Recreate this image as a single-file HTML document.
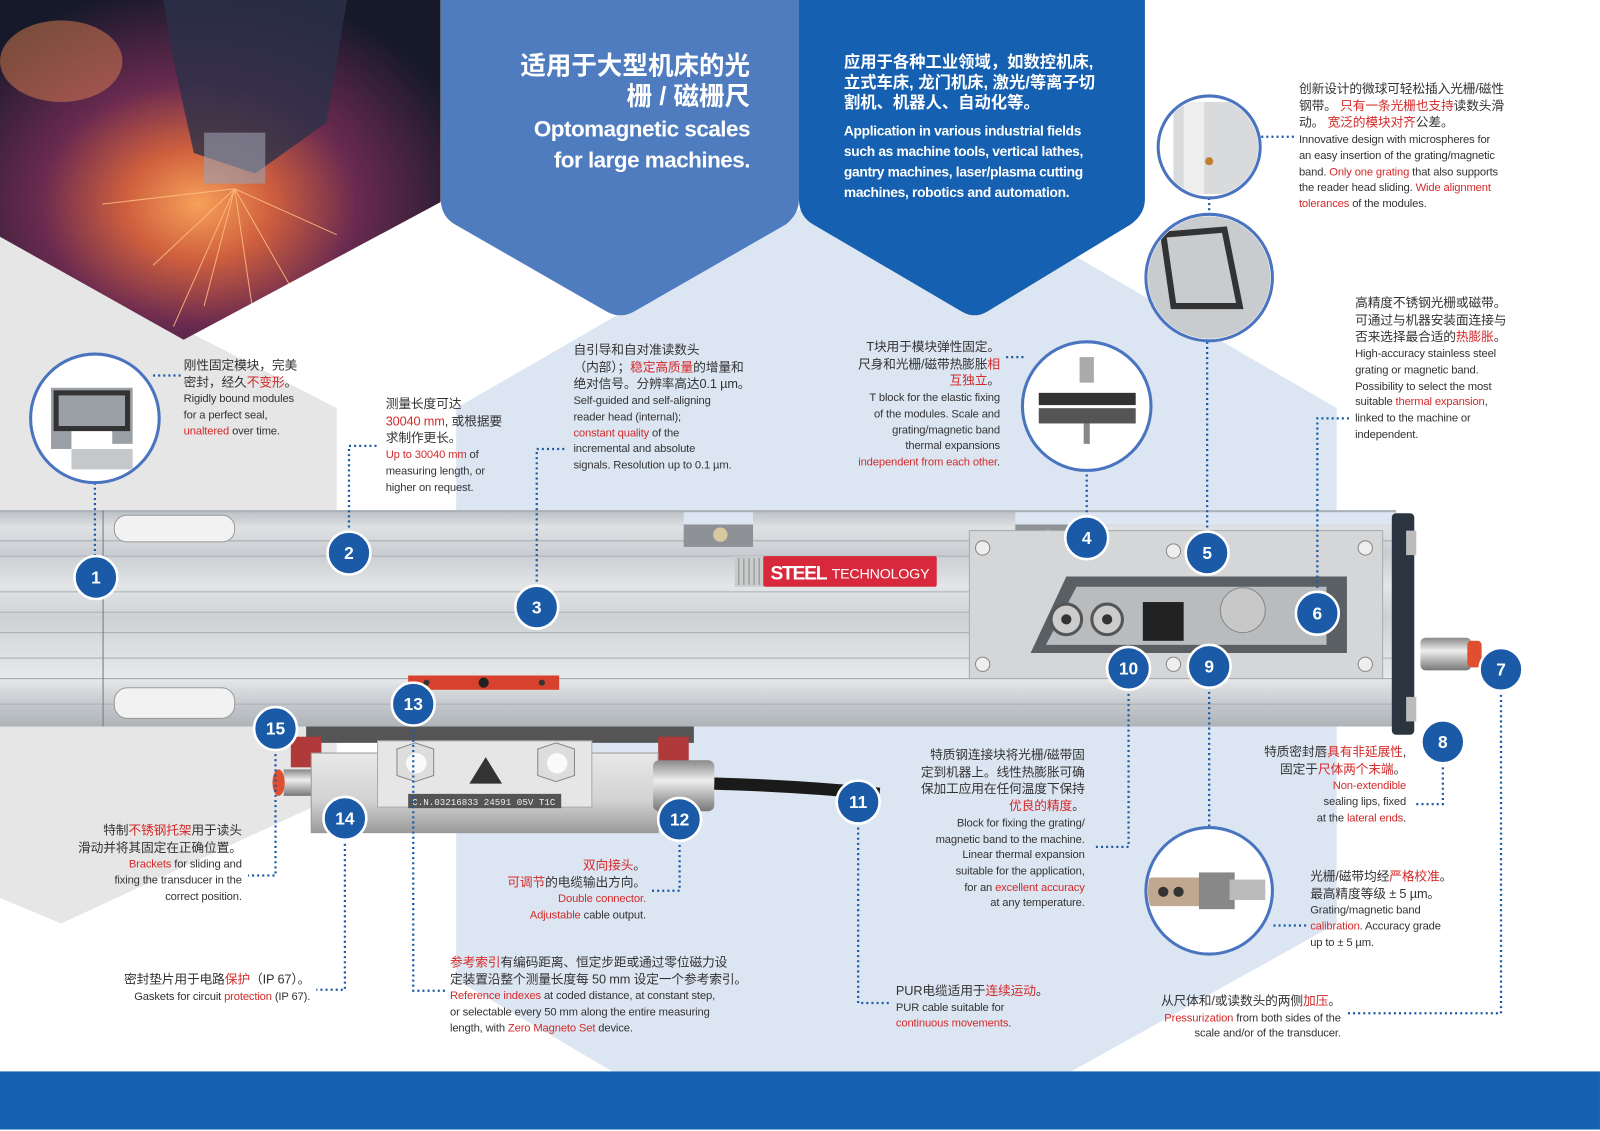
<!DOCTYPE html>
<html><head><meta charset="utf-8">
<style>
html,body{margin:0;padding:0;background:#fff;}
body{width:1600px;height:1131px;overflow:hidden;position:relative;}
#w{position:absolute;left:0;top:0;width:1568px;height:1107px;transform:scale(1.0204);transform-origin:0 0;}
svg{position:absolute;left:0;top:0;}
.t{position:absolute;font-family:"Liberation Sans","Noto Sans CJK SC",sans-serif;font-size:11px;line-height:15.7px;color:#333;white-space:nowrap;letter-spacing:-0.15px;}
.t .c{font-size:12.5px;}
.r{color:#d42a2a;}
.ra{text-align:right;}
.h{position:absolute;font-family:"Liberation Sans","Noto Sans CJK SC",sans-serif;color:#fff;white-space:nowrap;}
</style></head><body><div id="w">
<svg width="1568" height="1107" viewBox="0 0 1568 1107">
<defs>
<radialGradient id="fire" cx="0.45" cy="0.6" r="0.65">
<stop offset="0" stop-color="#f7a15a"/><stop offset="0.25" stop-color="#d0603e"/><stop offset="0.55" stop-color="#6a2a50"/><stop offset="1" stop-color="#15192a"/></radialGradient>
<linearGradient id="alu" x1="0" y1="0" x2="0" y2="1">
<stop offset="0" stop-color="#b9bec3"/><stop offset="0.08" stop-color="#dfe2e5"/><stop offset="0.2" stop-color="#c9cdd1"/><stop offset="0.35" stop-color="#e3e5e7"/><stop offset="0.5" stop-color="#cdd1d4"/><stop offset="0.62" stop-color="#dadde0"/><stop offset="0.78" stop-color="#e6e8ea"/><stop offset="0.9" stop-color="#c4c8cc"/><stop offset="1" stop-color="#aeb3b8"/></linearGradient>
<linearGradient id="head" x1="0" y1="0" x2="0" y2="1">
<stop offset="0" stop-color="#e8e8e8"/><stop offset="0.6" stop-color="#d2d2d2"/><stop offset="1" stop-color="#9a9a9a"/></linearGradient>
<linearGradient id="cyl" x1="0" y1="0" x2="0" y2="1">
<stop offset="0" stop-color="#888"/><stop offset="0.4" stop-color="#eee"/><stop offset="1" stop-color="#777"/></linearGradient>
<clipPath id="cA"><circle cx="93" cy="410" r="61"/></clipPath>
<clipPath id="cB"><circle cx="1065" cy="398" r="61"/></clipPath>
<clipPath id="cC"><circle cx="1185" cy="144" r="48"/></clipPath>
<clipPath id="cD"><circle cx="1185" cy="272" r="60"/></clipPath>
<clipPath id="cE"><circle cx="1185" cy="873" r="60"/></clipPath>
<clipPath id="ph"><polygon points="0,0 432,0 432,198 180,333 0,232"/></clipPath>
</defs>
<polygon points="0,230 330,400 330,780 60,905 0,880" fill="#e6e6e6"/>
<polygon points="880,150 1310,400 1310,905 1050,1050 600,1050 447,960 447,400" fill="#dce6f3"/>
<g clip-path="url(#ph)">
<rect x="0" y="0" width="432" height="333" fill="url(#fire)"/>
<polygon points="160,0 340,0 320,120 250,170 190,150 170,60" fill="#2a3148" opacity="0.8"/>
<rect x="200" y="130" width="60" height="50" fill="#9aa0b0" opacity="0.6"/>
<ellipse cx="60" cy="60" rx="60" ry="40" fill="#e08050" opacity="0.5"/>
<g stroke="#ffc080" stroke-width="1" opacity="0.85">
<line x1="230" y1="185" x2="150" y2="260"/><line x1="230" y1="185" x2="290" y2="290"/><line x1="230" y1="185" x2="100" y2="200"/><line x1="230" y1="185" x2="200" y2="300"/><line x1="230" y1="185" x2="330" y2="230"/><line x1="230" y1="185" x2="250" y2="320"/><line x1="230" y1="185" x2="170" y2="320"/></g>
</g>
<path d="M432,0 L783,0 L783,195 Q783,210 770,220 L622,305 Q608,313 594,305 L446,220 Q432,212 432,195 Z" fill="#4f7bbf"/>
<path d="M783,0 L1122,0 L1122,195 Q1122,210 1108,220 L968,305 Q955,313 942,305 L797,220 Q783,212 783,195 Z" fill="#1560b0"/>
<rect x="0" y="1050" width="1568" height="57" fill="#1560b0"/>
<rect x="0" y="500" width="1368" height="212" fill="url(#alu)"/>
<rect x="670" y="500" width="68" height="14" fill="#dce6f3"/>
<rect x="995" y="500" width="373" height="14" fill="#dce6f3"/>
<rect x="0" y="500" width="1368" height="2" fill="#aab0b5"/>
<g stroke="#a9aeb3" stroke-width="1">
<line x1="0" y1="530" x2="1368" y2="530"/><line x1="0" y1="545" x2="950" y2="545"/><line x1="0" y1="580" x2="950" y2="580"/><line x1="0" y1="600" x2="950" y2="600"/><line x1="0" y1="620" x2="950" y2="620"/><line x1="0" y1="645" x2="1368" y2="645"/><line x1="0" y1="665" x2="1368" y2="665"/><line x1="0" y1="690" x2="1368" y2="690"/>
<line x1="101" y1="500" x2="101" y2="712" stroke="#777"/></g>
<rect x="112" y="505" width="118" height="26" rx="12" fill="#f2f2f2" stroke="#999"/>
<rect x="112" y="674" width="118" height="30" rx="13" fill="#f2f2f2" stroke="#999"/>
<rect x="670" y="514" width="68" height="22" fill="#8e9296"/><circle cx="706" cy="524" r="7" fill="#d8c8a0"/>
<rect x="995" y="514" width="55" height="22" fill="#8e9296"/><circle cx="1027" cy="526" r="7" fill="#d8c8a0"/>
<rect x="720" y="545" width="28" height="30" fill="#c9cbcd"/>
<g stroke="#888"><line x1="724" y1="547" x2="724" y2="573"/><line x1="729" y1="547" x2="729" y2="573"/><line x1="734" y1="547" x2="734" y2="573"/><line x1="739" y1="547" x2="739" y2="573"/><line x1="744" y1="547" x2="744" y2="573"/></g>
<rect x="748" y="545" width="170" height="30" rx="2" fill="#d8283c"/>
<text x="755" y="568" font-family="Liberation Sans,sans-serif" font-weight="bold" font-size="19" fill="#fff" textLength="56">STEEL</text>
<text x="815" y="567" font-family="Liberation Sans,sans-serif" font-size="14" fill="#fff" textLength="96">TECHNOLOGY</text>
<rect x="950" y="520" width="405" height="145" fill="#d4d6d8" stroke="#aaa"/>
<polygon points="1045,565 1320,565 1320,640 1010,640" fill="#5a5f64"/>
<polygon points="1055,575 1300,575 1300,632 1025,632" fill="#b8bcbf"/>
<circle cx="1045" cy="607" r="15" fill="#ccc" stroke="#555" stroke-width="3"/><circle cx="1045" cy="607" r="5" fill="#333"/>
<circle cx="1085" cy="607" r="15" fill="#ccc" stroke="#555" stroke-width="3"/><circle cx="1085" cy="607" r="5" fill="#333"/>
<rect x="1120" y="590" width="40" height="38" fill="#222"/>
<circle cx="1218" cy="598" r="22" fill="#c8c8c8" stroke="#888"/>
<g fill="#eee" stroke="#888"><circle cx="963" cy="537" r="7"/><circle cx="1150" cy="540" r="7"/><circle cx="1338" cy="537" r="7"/><circle cx="963" cy="651" r="7"/><circle cx="1150" cy="651" r="7"/><circle cx="1338" cy="651" r="7"/></g>
<rect x="1364" y="503" width="22" height="217" rx="4" fill="#2a3540"/>
<rect x="1378" y="520" width="10" height="24" fill="#bbb"/><rect x="1378" y="683" width="10" height="24" fill="#bbb"/>
<rect x="1392" y="625" width="50" height="32" rx="5" fill="url(#cyl)"/>
<rect x="1438" y="628" width="14" height="26" rx="4" fill="#e05030"/>
<rect x="400" y="662" width="148" height="14" fill="#d8412e"/>
<circle cx="418" cy="669" r="3" fill="#333"/><circle cx="474" cy="669" r="5" fill="#222"/><circle cx="531" cy="669" r="3" fill="#333"/>
<rect x="300" y="712" width="380" height="16" fill="#555"/>
<rect x="285" y="722" width="30" height="30" fill="#b03a3a"/><rect x="645" y="722" width="30" height="30" fill="#b03a3a"/>
<rect x="278" y="754" width="30" height="26" fill="url(#cyl)"/>
<ellipse cx="273" cy="767" rx="6" ry="13" fill="#e05030"/>
<rect x="305" y="738" width="340" height="78" fill="url(#head)" stroke="#999"/>
<rect x="370" y="726" width="210" height="65" fill="#e6e6e6" stroke="#aaa"/>
<polygon points="407,728 425,734 425,760 407,766 389,760 389,734" fill="#ddd" stroke="#888"/><circle cx="408" cy="748" r="10" fill="#fafafa"/>
<polygon points="545,728 563,734 563,760 545,766 527,760 527,734" fill="#ddd" stroke="#888"/><circle cx="546" cy="748" r="10" fill="#fafafa"/>
<polygon points="476,742 492,768 460,768" fill="#333"/>
<rect x="400" y="778" width="150" height="14" fill="#555"/>
<text x="404" y="789" font-family="Liberation Mono,monospace" font-size="9" fill="#eee">C.N.03216833 24591 05V T1C</text>
<rect x="640" y="745" width="60" height="50" rx="6" fill="url(#cyl)"/>
<path d="M700,768 Q780,770 862,778" stroke="#1a1a1a" stroke-width="12" fill="none"/>
<g stroke="#1a5aa6" stroke-width="2.2" stroke-dasharray="2 3" fill="none">
<path d="M93,473 V546"/><path d="M150,368 H178"/>
<path d="M342,522 V437 H372"/><path d="M526,575 V440 H556"/>
<path d="M1065,507 V461"/><path d="M1003,350 H985"/>
<path d="M1183,522 V334"/><path d="M1185,194 V210"/><path d="M1236,134 H1268"/>
<path d="M1291,581 V410 H1322"/>
<path d="M1471,676 V993 H1320"/><path d="M1414,747 V788 H1385"/>
<path d="M1185,673 V811"/><path d="M1248,907 H1280"/>
<path d="M1106,675 V830 H1073"/><path d="M841,806 V983 H872"/>
<path d="M666,823 V873 H637"/><path d="M405,710 V971 H437"/>
<path d="M338,822 V970 H310"/><path d="M270,734 V858 H243"/>
</g>
<g stroke="#4a74c0" stroke-width="3" fill="#fff">
<circle cx="93" cy="410" r="63"/><circle cx="1065" cy="398" r="63"/><circle cx="1185" cy="144" r="50"/><circle cx="1185" cy="272" r="62"/><circle cx="1185" cy="873" r="62"/></g>
<g clip-path="url(#cA)"><path d="M50,380 h80 v55 h-20 v-15 h-40 v20 h-20 z" fill="#9aa0a5"/><rect x="55" y="385" width="70" height="35" fill="none" stroke="#333" stroke-width="5"/><rect x="70" y="440" width="60" height="20" fill="#c5c8cb"/></g>
<g clip-path="url(#cB)"><rect x="1058" y="350" width="14" height="25" fill="#aaa"/><rect x="1018" y="385" width="95" height="12" fill="#333"/><rect x="1018" y="400" width="95" height="15" fill="#555"/><rect x="1062" y="415" width="6" height="20" fill="#888"/></g>
<g clip-path="url(#cC)"><rect x="1150" y="100" width="90" height="90" fill="#d8dadc"/><rect x="1160" y="100" width="20" height="90" fill="#eee"/><circle cx="1185" cy="158" r="4" fill="#c08030"/></g>
<g clip-path="url(#cD)"><rect x="1125" y="210" width="120" height="124" fill="#c9ccce"/><path d="M1140,230 L1200,225 L1215,300 L1150,300 Z" fill="none" stroke="#333" stroke-width="6"/></g>
<g clip-path="url(#cE)"><rect x="1125" y="860" width="55" height="28" rx="4" fill="#c0a890"/><rect x="1175" y="855" width="35" height="36" fill="#888"/><rect x="1205" y="862" width="35" height="20" fill="#bbb"/><circle cx="1140" cy="874" r="5" fill="#333"/><circle cx="1155" cy="874" r="5" fill="#333"/></g>
<g font-family="Liberation Sans,sans-serif" font-weight="bold" font-size="17" fill="#fff" text-anchor="middle">
<g stroke="#fff" stroke-width="2.5" fill="#1a5aa6">
<circle cx="94" cy="566" r="21"/><circle cx="342" cy="542" r="21"/><circle cx="526" cy="595" r="21"/><circle cx="1065" cy="527" r="21"/><circle cx="1183" cy="542" r="21"/><circle cx="1291" cy="601" r="21"/><circle cx="1471" cy="656" r="21"/><circle cx="1414" cy="727" r="21"/><circle cx="1185" cy="653" r="21"/><circle cx="1106" cy="655" r="21"/><circle cx="841" cy="786" r="21"/><circle cx="666" cy="803" r="21"/><circle cx="405" cy="690" r="21"/><circle cx="338" cy="802" r="21"/><circle cx="270" cy="714" r="21"/></g>
<text x="94" y="572">1</text><text x="342" y="548">2</text><text x="526" y="601">3</text><text x="1065" y="533">4</text><text x="1183" y="548">5</text><text x="1291" y="607">6</text><text x="1471" y="662">7</text><text x="1414" y="733">8</text><text x="1185" y="659">9</text><text x="1106" y="661">10</text><text x="841" y="792">11</text><text x="666" y="809">12</text><text x="405" y="696">13</text><text x="338" y="808">14</text><text x="270" y="720">15</text>
</g>
</svg>

<div class="h" style="right:833px;top:50px;text-align:right;font-size:25px;font-weight:bold;line-height:30px;">适用于大型机床的光<br>栅 / 磁栅尺</div>
<div class="h" style="right:833px;top:112px;text-align:right;font-size:22px;font-weight:bold;line-height:30px;letter-spacing:-0.5px;">Optomagnetic scales<br>for large machines.</div>
<div class="h" style="left:827px;top:52px;font-size:16px;font-weight:bold;line-height:20px;">应用于各种工业领域，如数控机床,<br>立式车床, 龙门机床, 激光/等离子切<br>割机、机器人、自动化等。</div>
<div class="h" style="left:827px;top:119px;font-size:13.5px;font-weight:bold;line-height:20px;letter-spacing:-0.3px;">Application in various industrial fields<br>such as machine tools, vertical lathes,<br>gantry machines, laser/plasma cutting<br>machines, robotics and automation.</div>

<div class="t" style="left:180px;top:351px;"><span class="c">刚性固定模块，完美<br>密封，经久<span class="r">不变形</span>。</span><br>Rigidly bound modules<br>for a perfect seal,<br><span class="r">unaltered</span> over time.</div>
<div class="t" style="left:378px;top:389px;"><span class="c">测量长度可达<br><span class="r">30040 mm</span>, 或根据要<br>求制作更长。</span><br><span class="r">Up to 30040 mm</span> of<br>measuring length, or<br>higher on request.</div>
<div class="t" style="left:562px;top:336px;"><span class="c">自引导和自对准读数头<br>（内部）；<span class="r">稳定高质量</span>的增量和<br>绝对信号。分辨率高达0.1 µm。</span><br>Self-guided and self-aligning<br>reader head (internal);<br><span class="r">constant quality</span> of the<br>incremental and absolute<br>signals. Resolution up to 0.1 µm.</div>
<div class="t ra" style="right:588px;top:333px;"><span class="c">T块用于模块弹性固定。<br>尺身和光栅/磁带热膨胀<span class="r">相</span><br><span class="r">互独立</span>。</span><br>T block for the elastic fixing<br>of the modules. Scale and<br>grating/magnetic band<br>thermal expansions<br><span class="r">independent from each other</span>.</div>
<div class="t" style="left:1273px;top:80px;"><span class="c">创新设计的微球可轻松插入光栅/磁性<br>钢带。 <span class="r">只有一条光栅也支持</span>读数头滑<br>动。 <span class="r">宽泛的模块对齐</span>公差。</span><br>Innovative design with microspheres for<br>an easy insertion of the grating/magnetic<br>band. <span class="r">Only one grating</span> that also supports<br>the reader head sliding. <span class="r">Wide alignment</span><br><span class="r">tolerances</span> of the modules.</div>
<div class="t" style="left:1328px;top:290px;"><span class="c">高精度不锈钢光栅或磁带。<br>可通过与机器安装面连接与<br>否来选择最合适的<span class="r">热膨胀</span>。</span><br>High-accuracy stainless steel<br>grating or magnetic band.<br>Possibility to select the most<br>suitable <span class="r">thermal expansion</span>,<br>linked to the machine or<br>independent.</div>
<div class="t ra" style="right:190px;top:730px;"><span class="c">特质密封唇<span class="r">具有非延展性</span>,<br>固定于<span class="r">尺体两个末端</span>。</span><br><span class="r">Non-extendible</span><br>sealing lips, fixed<br>at the <span class="r">lateral ends</span>.</div>
<div class="t ra" style="right:505px;top:733px;"><span class="c">特质钢连接块将光栅/磁带固<br>定到机器上。线性热膨胀可确<br>保加工应用在任何温度下保持<br><span class="r">优良的精度</span>。</span><br>Block for fixing the grating/<br>magnetic band to the machine.<br>Linear thermal expansion<br>suitable for the application,<br>for an <span class="r">excellent accuracy</span><br>at any temperature.</div>
<div class="t" style="left:1284px;top:852px;"><span class="c">光栅/磁带均经<span class="r">严格校准</span>。<br>最高精度等级 ± 5 µm。</span><br>Grating/magnetic band<br><span class="r">calibration</span>. Accuracy grade<br>up to ± 5 µm.</div>
<div class="t ra" style="right:254px;top:974px;"><span class="c">从尺体和/或读数头的两侧<span class="r">加压</span>。</span><br><span class="r">Pressurization</span> from both sides of the<br>scale and/or of the transducer.</div>
<div class="t" style="left:878px;top:964px;"><span class="c">PUR电缆适用于<span class="r">连续运动</span>。</span><br>PUR cable suitable for<br><span class="r">continuous movements</span>.</div>
<div class="t" style="left:441px;top:936px;"><span class="c"><span class="r">参考索引</span>有编码距离、恒定步距或通过零位磁力设<br>定装置沿整个测量长度每 50 mm 设定一个参考索引。</span><br><span class="r">Reference indexes</span> at coded distance, at constant step,<br>or selectable every 50 mm along the entire measuring<br>length, with <span class="r">Zero Magneto Set</span> device.</div>
<div class="t ra" style="right:1264px;top:953px;"><span class="c">密封垫片用于电路<span class="r">保护</span>（IP 67）。</span><br>Gaskets for circuit <span class="r">protection</span> (IP 67).</div>
<div class="t ra" style="right:1331px;top:807px;"><span class="c">特制<span class="r">不锈钢托架</span>用于读头<br>滑动并将其固定在正确位置。</span><br><span class="r">Brackets</span> for sliding and<br>fixing the transducer in the<br>correct position.</div>
<div class="t ra" style="right:935px;top:841px;"><span class="c"><span class="r">双向接头</span>。<br><span class="r">可调节</span>的电缆输出方向。</span><br><span class="r">Double connector.</span><br><span class="r">Adjustable</span> cable output.</div>
</div></body></html>
